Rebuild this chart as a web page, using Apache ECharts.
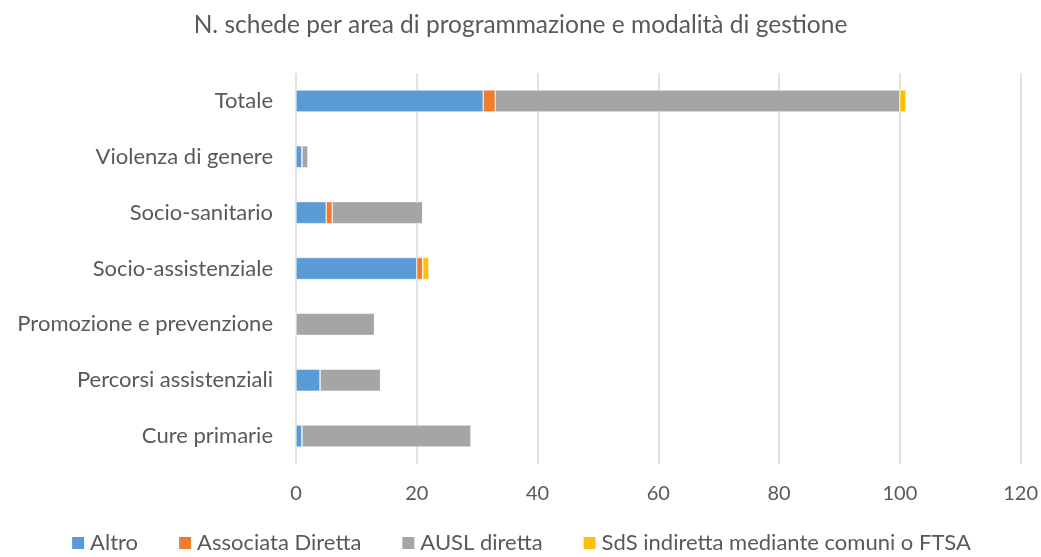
<!DOCTYPE html>
<html><head><meta charset="utf-8">
<script src="https://cdn.jsdelivr.net/npm/echarts@6/dist/echarts.min.js"></script>
<style>html,body{margin:0;padding:0;background:#fff}#c{width:1041px;height:557px}</style>
</head><body><div id="c"></div>
<script>
const categories = ['Cure primarie','Percorsi assistenziali','Promozione e prevenzione','Socio-assistenziale','Socio-sanitario','Violenza di genere','Totale'];
const altro = [1,4,0,20,5,1,31];
const associataDiretta = [0,0,0,1,1,0,2];
const auslDiretta = [28,10,13,0,15,1,67];
const sdsIndiretta = [0,0,0,1,0,0,1];
const seriesNames = ['Altro','Associata Diretta','AUSL diretta','SdS indiretta mediante comuni o FTSA'];
const colors = ['#5b9bd5','#ed7d31','#a5a5a5','#ffc000'];
const font = 'Lato, "Open Sans", sans-serif';
const chart = echarts.init(document.getElementById('c'));
const datas = [altro, associataDiretta, auslDiretta, sdsIndiretta];
chart.setOption({
  animation:false,
  color: colors,
  title:{text:'N. schede per area di programmazione e modalità di gestione',left:'center',top:8,
    padding:[5,0,5,22],
    textStyle:{color:'#595959',fontSize:24.5,fontWeight:'normal',fontFamily:font}},
  legend:{bottom:0,left:'center',padding:[5,0,3,31],itemWidth:14,itemHeight:14,itemGap:39,icon:'rect',
    textStyle:{color:'#595959',fontSize:22,fontFamily:font},data:seriesNames},
  grid:{left:296,right:19,top:73,bottom:93,containLabel:false},
  xAxis:{type:'value',min:0,max:120,interval:20,
    axisLine:{show:false},axisTick:{show:false},
    axisLabel:{color:'#595959',fontSize:20,fontFamily:font,margin:20},
    splitLine:{lineStyle:{color:'#d9d9d9',width:1.5}}},
  yAxis:{type:'category',data:categories,
    axisLine:{show:false},axisTick:{show:false},
    axisLabel:{color:'#595959',fontSize:22,fontFamily:font,margin:23}},
  series: seriesNames.map((n,i)=>({name:n,type:'bar',stack:'t',barWidth:22,data:datas[i],
    itemStyle:{borderColor:'#fff',borderWidth:0.5}}))
});
</script></body></html>
